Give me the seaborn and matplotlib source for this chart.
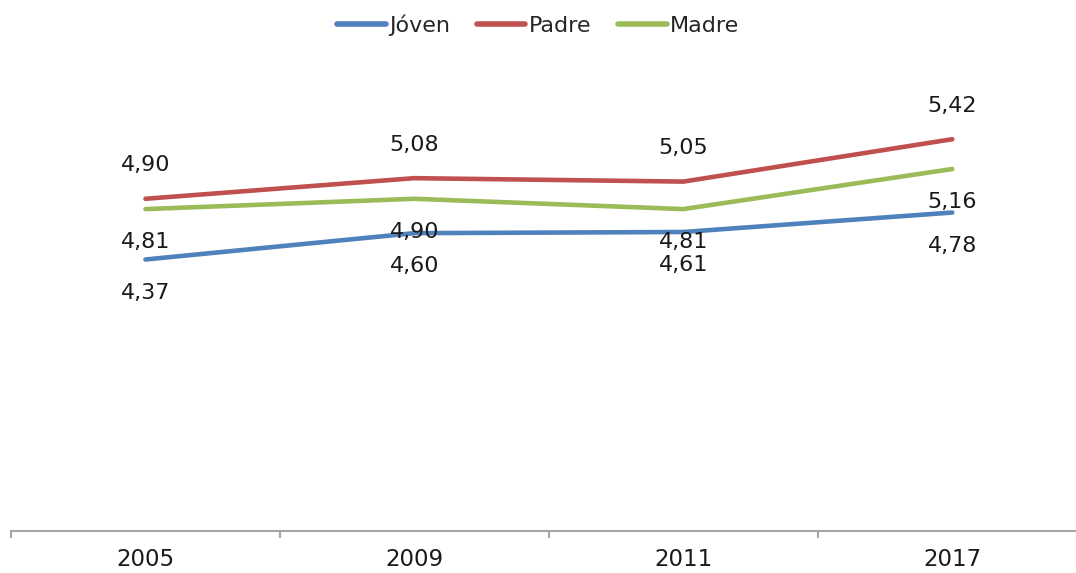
import numpy as np
import pandas as pd
import matplotlib.pyplot as plt
import seaborn as sns

years = ["2005", "2009", "2011", "2017"]
joven = [4.37, 4.60, 4.61, 4.78]
padre = [4.90, 5.08, 5.05, 5.42]
madre = [4.81, 4.90, 4.81, 5.16]

series = ["Jóven", "Padre", "Madre"]
colors = ["#4F81BD", "#C0504D", "#9BBB59"]
# label position relative to the point: +1 above, -1 below
label_side = {"Jóven": -1, "Padre": 1, "Madre": -1}


def main():
    sns.set_style("white")
    plt.rcParams["font.family"] = ["DejaVu Sans"]

    df = pd.DataFrame({
        "year": years * 3,
        "value": joven + padre + madre,
        "serie": [s for s in series for _ in years],
    })

    fig = plt.figure(figsize=(10.76, 5.73), dpi=100)
    ax = fig.add_axes([0.0102, 0.0733, 0.9898, 0.7997])

    sns.lineplot(data=df, x="year", y="value", hue="serie", hue_order=series,
                 palette=colors, linewidth=3.3, ax=ax, sort=False,
                 solid_capstyle="round")

    pos = {y: i for i, y in enumerate(years)}
    for _, row in df.iterrows():
        side = label_side[row["serie"]]
        ax.annotate(f"{row['value']:.2f}".replace(".", ","),
                    (pos[row["year"]], row["value"]),
                    xytext=(0, 24 * side), textcoords="offset points",
                    ha="center", va="center", fontsize=16, color="#1a1a1a")

    ax.set_xlim(-0.5, 3.46)
    ax.set_ylim(2, 6)
    ax.set_yticks([])
    ax.set_xlabel("")
    ax.set_ylabel("")
    for s in ["top", "right", "left"]:
        ax.spines[s].set_visible(False)
    ax.spines["bottom"].set_color("#A6A6A6")
    ax.spines["bottom"].set_linewidth(1.5)

    ax.set_xticks(range(len(years)))
    ax.set_xticklabels(years, fontsize=16.5, color="#1a1a1a")
    ax.set_xticks([-0.5, 0.5, 1.5, 2.5], minor=True)
    ax.tick_params(axis="x", which="major", bottom=False, length=0, pad=12)
    ax.tick_params(axis="x", which="minor", bottom=True, length=5, width=1.5,
                   color="#A6A6A6", direction="out")

    handles, labels = ax.get_legend_handles_labels()
    ax.get_legend().remove()
    leg = fig.legend(handles, labels, loc="upper center", ncol=3,
                     bbox_to_anchor=(0.5, 1.01), frameon=False, fontsize=16,
                     handlelength=2.2, handletextpad=0.15, columnspacing=1.2)
    for line in leg.get_lines():
        line.set_linewidth(4)
        line.set_solid_capstyle("round")

    fig.savefig("out.png", dpi=100)
    plt.close(fig)


if __name__ == "__main__":
    main()
